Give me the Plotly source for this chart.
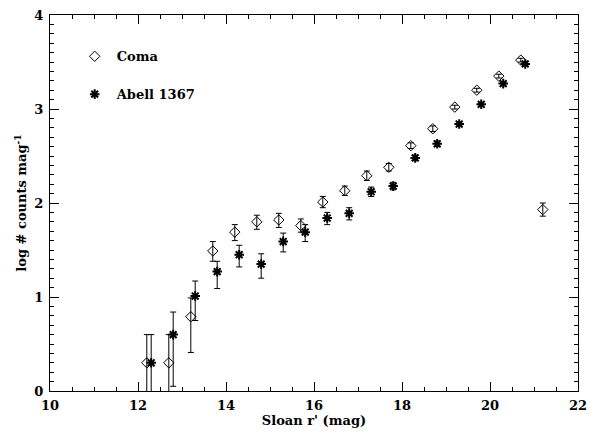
import plotly.graph_objects as go

# Coma cluster luminosity function
coma_mag = [12.2, 12.7, 13.2, 13.7, 14.2, 14.7, 15.2, 15.7, 16.2, 16.7,
            17.2, 17.7, 18.2, 18.7, 19.2, 19.7, 20.2, 20.7, 21.2]
coma_logn = [0.30, 0.30, 0.79, 1.49, 1.69, 1.80, 1.82, 1.76, 2.01, 2.13,
             2.29, 2.38, 2.61, 2.79, 3.02, 3.20, 3.35, 3.52, 1.93]
coma_err_up = [0.30, 0.30, 0.20, 0.10, 0.08, 0.07, 0.07, 0.07, 0.06, 0.05,
               0.05, 0.04, 0.03, 0.03, 0.02, 0.02, 0.02, 0.02, 0.07]
coma_err_dn = [1.00, 1.00, 0.38, 0.11, 0.09, 0.08, 0.08, 0.07, 0.06, 0.05,
               0.05, 0.04, 0.03, 0.03, 0.02, 0.02, 0.02, 0.02, 0.07]

# Abell 1367 luminosity function
a1367_mag = [12.3, 12.8, 13.3, 13.8, 14.3, 14.8, 15.3, 15.8, 16.3, 16.8,
             17.3, 17.8, 18.3, 18.8, 19.3, 19.8, 20.3, 20.8]
a1367_logn = [0.30, 0.60, 1.01, 1.27, 1.45, 1.35, 1.59, 1.69, 1.84, 1.89,
              2.12, 2.18, 2.48, 2.63, 2.84, 3.05, 3.27, 3.48]
a1367_err_up = [0.30, 0.24, 0.16, 0.11, 0.10, 0.11, 0.09, 0.08, 0.06, 0.06,
                0.05, 0.04, 0.03, 0.03, 0.02, 0.02, 0.02, 0.02]
a1367_err_dn = [1.00, 0.55, 0.26, 0.18, 0.13, 0.15, 0.11, 0.10, 0.07, 0.07,
                0.05, 0.04, 0.03, 0.03, 0.02, 0.02, 0.02, 0.02]

x_ticks = [10, 12, 14, 16, 18, 20, 22]
y_ticks = [0, 1, 2, 3, 4]

FONT = "DejaVu Serif"

fig = go.Figure()

fig.add_trace(go.Scatter(
    x=coma_mag, y=coma_logn, mode="markers", name="Coma",
    legendgroup="coma",
    marker=dict(symbol="diamond-open", size=8, color="black",
                line=dict(width=1, color="black")),
    error_y=dict(type="data", symmetric=False, array=coma_err_up,
                 arrayminus=coma_err_dn, color="black", thickness=1, width=3),
))

fig.add_trace(go.Scatter(
    x=a1367_mag, y=a1367_logn, mode="markers", name="Abell 1367",
    legendgroup="a1367",
    marker=dict(symbol="asterisk-open", size=8, color="black",
                line=dict(width=2, color="black")),
    error_y=dict(type="data", symmetric=False, array=a1367_err_up,
                 arrayminus=a1367_err_dn, color="black", thickness=1, width=3),
))

axis_common = dict(
    showline=True, linecolor="black", linewidth=1, mirror="ticks",
    ticks="inside", tickcolor="black", ticklen=9, tickwidth=1,
    showgrid=False, zeroline=False, ticklabeloverflow="allow",
    tickfont=dict(family=FONT, size=13, color="black", weight="bold"),
)

fig.update_xaxes(
    range=[10, 22], tickvals=x_ticks, ticklabelstandoff=2,
    minor=dict(ticks="inside", dtick=0.5, ticklen=4, tickcolor="black", tickwidth=1),
    title=dict(text="Sloan r' (mag)", standoff=0,
               font=dict(family=FONT, size=13, color="black", weight="bold")),
    **axis_common,
)
fig.update_yaxes(
    range=[0, 4], tickvals=y_ticks, ticklabelstandoff=3,
    minor=dict(ticks="inside", dtick=0.1, ticklen=4, tickcolor="black", tickwidth=1),
    title=dict(text="log # counts mag<sup>-1</sup>", standoff=4,
               font=dict(family=FONT, size=13, color="black", weight="bold")),
    **axis_common,
)

fig.update_layout(
    width=595, height=438,
    margin=dict(l=50, r=8, t=8, b=47),
    paper_bgcolor="white", plot_bgcolor="white",
    showlegend=True,
    legend=dict(x=0.043, y=0.93, xanchor="left", yanchor="top",
                bgcolor="rgba(0,0,0,0)", tracegroupgap=18, itemwidth=34,
                font=dict(family=FONT, size=13, color="black", weight="bold")),
)

fig.write_html("out.html")
